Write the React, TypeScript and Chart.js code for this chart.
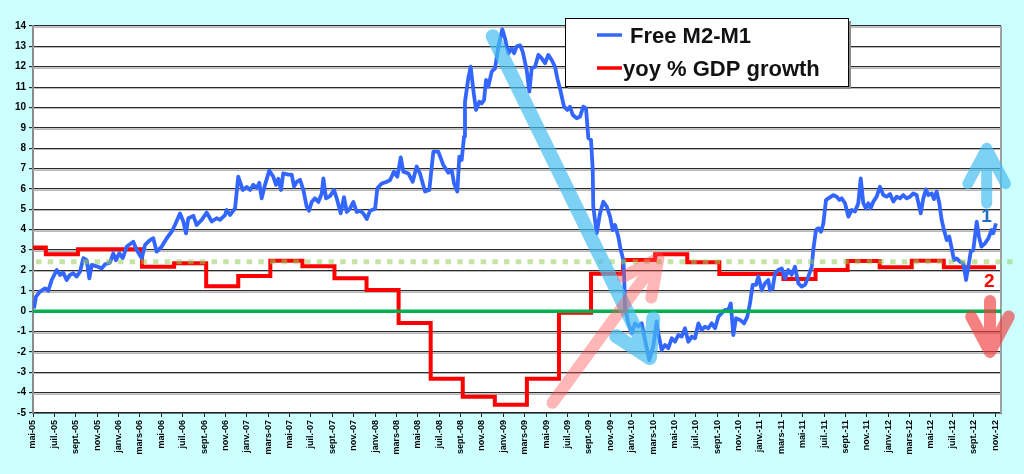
import React, { useEffect, useRef } from "react";
import { Chart, registerables } from "chart.js";

Chart.register(...registerables);

// ---------- data ----------
const tickLabels = [
  "mai-05", "juil.-05", "sept.-05", "nov.-05",
  "janv.-06", "mars-06", "mai-06", "juil.-06", "sept.-06", "nov.-06",
  "janv.-07", "mars-07", "mai-07", "juil.-07", "sept.-07", "nov.-07",
  "janv.-08", "mars-08", "mai-08", "juil.-08", "sept.-08", "nov.-08",
  "janv.-09", "mars-09", "mai-09", "juil.-09", "sept.-09", "nov.-09",
  "janv.-10", "mars-10", "mai-10", "juil.-10", "sept.-10", "nov.-10",
  "janv.-11", "mars-11", "mai-11", "juil.-11", "sept.-11", "nov.-11",
  "janv.-12", "mars-12", "mai-12", "juil.-12", "sept.-12", "nov.-12",
];

// months elapsed since mai-05 for each observation of Free M2-M1
const m2m1Months = [
  0.09, 0.28, 0.65, 1.12, 1.43, 1.75, 2.22, 2.53, 2.83, 3.15,
  3.46, 3.77, 4.09, 4.40, 4.71, 5.02, 5.27, 5.49, 5.96, 6.43,
  6.74, 7.20, 7.51, 7.76, 8.07, 8.39, 8.77, 9.38, 9.70, 10.17,
  10.48, 10.94, 11.25, 11.57, 12.04, 12.51, 12.97, 13.28, 13.75, 14.06,
  14.31, 14.53, 15.00, 15.31, 15.78, 16.25, 16.72, 17.18, 17.49, 17.96,
  18.12, 18.43, 18.90, 19.20, 19.62, 19.99, 20.30, 20.61, 20.93, 21.17,
  21.39, 21.70, 22.10, 22.48, 22.73, 22.95, 23.20, 23.41, 23.88, 24.20,
  24.42, 24.67, 24.98, 25.29, 25.60, 25.82, 26.07, 26.38, 26.69, 27.01,
  27.16, 27.41, 27.78, 28.16, 28.41, 28.78, 29.09, 29.35, 29.65, 29.96,
  30.28, 30.59, 30.90, 31.22, 31.53, 32.00, 32.21, 32.62, 33.09, 33.40,
  33.77, 34.08, 34.40, 34.64, 35.11, 35.52, 35.89, 36.20, 36.67, 37.07,
  37.45, 37.91, 38.38, 38.85, 39.17, 39.38, 39.69, 39.88, 40.10, 40.32,
  40.41, 40.72, 40.94, 41.19, 41.44, 41.75, 41.97, 42.19, 42.38, 42.59,
  42.91, 43.22, 43.53, 43.90, 44.15, 44.46, 44.78, 45.00, 45.25, 45.56,
  45.81, 46.18, 46.43, 46.65, 46.96, 47.27, 47.59, 47.90, 48.20, 48.52,
  48.83, 49.05, 49.36, 49.67, 49.98, 50.23, 50.49, 50.86, 51.17, 51.48,
  51.73, 51.95, 52.20, 52.36, 52.41, 52.73, 53.04, 53.35, 53.67, 53.98,
  54.23, 54.44, 54.75, 54.98, 55.22, 55.29, 55.38, 55.69, 56.01, 56.31,
  56.62, 56.94, 57.25, 57.65, 58.03, 58.34, 58.49, 58.81, 59.12, 59.43,
  59.75, 60.06, 60.37, 60.68, 60.99, 61.30, 61.62, 61.93, 62.24, 62.55,
  62.86, 63.17, 63.49, 63.80, 64.11, 64.42, 64.73, 65.04, 65.27, 65.51,
  65.76, 66.14, 66.51, 66.82, 67.07, 67.32, 67.63, 67.85, 68.17, 68.48,
  68.78, 68.94, 69.19, 69.41, 69.72, 70.04, 70.35, 70.65, 70.97, 71.28,
  71.59, 71.91, 72.22, 72.53, 72.84, 72.99, 73.24, 73.46, 73.71, 73.93,
  74.18, 74.40, 74.86, 75.18, 75.42, 75.65, 75.96, 76.27, 76.59, 76.89,
  77.20, 77.43, 77.67, 77.92, 78.14, 78.36, 78.61, 78.92, 79.23, 79.54,
  79.86, 80.17, 80.48, 80.79, 81.10, 81.41, 81.73, 82.04, 82.35, 82.66,
  83.04, 83.28, 83.54, 83.75, 84.07, 84.28, 84.53, 84.78, 85.00, 85.22,
  85.47, 85.71, 85.94, 86.15, 86.40, 86.71, 87.03, 87.28, 87.49, 87.72,
  87.96, 88.28, 88.49, 88.72, 89.05, 89.36, 89.68, 89.83, 90.08,
];

const m2m1Values = [
  0.14, 0.71, 0.96, 1.12, 1.0, 1.53, 2.02, 1.78, 1.89, 1.53,
  1.78, 1.86, 1.7, 1.94, 2.6, 2.5, 1.61, 2.27, 2.2, 2.1,
  2.3, 2.38, 2.84, 2.5, 2.84, 2.6, 3.17, 3.41, 3.0, 2.6,
  3.25, 3.49, 3.58, 2.92, 3.17, 3.58, 3.9, 4.23, 4.8, 4.4,
  3.82, 4.56, 4.68, 4.23, 4.48, 4.84, 4.4, 4.56, 4.48, 4.72,
  4.97, 4.72, 5.05, 6.6, 5.95, 6.1, 5.95, 6.2, 6.05, 6.3,
  5.54, 6.2, 6.9, 6.6, 6.2, 6.5, 5.95, 6.77, 6.7, 6.7,
  6.11, 6.35, 6.45, 5.95, 5.13, 4.93, 5.36, 5.54, 5.36, 5.78,
  6.52, 5.54, 5.65, 5.95, 5.54, 4.8, 5.6, 4.87, 5.03, 5.36,
  4.87, 4.93, 4.8, 4.52, 4.93, 5.03, 6.03, 6.27, 6.35, 6.44,
  6.85, 6.6, 7.55, 6.85, 6.76, 6.35, 7.1, 6.76, 5.87, 5.95,
  7.83, 7.83, 7.18, 6.8, 6.93, 6.28, 5.87, 7.59, 7.42, 8.57,
  10.28, 11.43, 12.0, 10.86, 9.88, 10.28, 10.2, 10.36, 11.35, 11.02,
  11.76, 11.92, 12.98, 13.84, 13.4, 12.66, 12.9, 12.66, 13.0, 13.05,
  12.74, 11.84, 10.78, 11.92, 12.0, 12.58, 12.41, 12.17, 12.58, 12.33,
  12.0, 11.43, 10.78, 10.04, 9.88, 10.04, 9.63, 9.47, 9.55, 10.04,
  9.96, 8.49, 8.41, 6.93, 5.13, 3.82, 4.8, 5.37, 5.13, 4.64,
  3.98, 4.23, 3.66, 3.0, 2.51, 1.86, 0.2, -0.6, -1.09, -0.6,
  -0.75, -0.6, -1.41, -2.4, -1.7, -0.5, -1.09, -1.9, -1.66, -1.82,
  -1.33, -1.5, -1.17, -1.25, -0.84, -1.5, -1.25, -1.33, -0.6, -0.92,
  -0.76, -0.84, -0.6, -0.84, -0.27, -0.1, 0.06, 0.06, 0.38, -1.17,
  -0.35, -0.43, -0.6, -0.27, 0.38, 1.29, 1.29, 1.7, 1.04, 1.37,
  1.53, 1.04, 1.12, 1.86, 2.02, 2.1, 1.61, 2.02, 1.78, 2.18,
  1.37, 1.21, 1.29, 1.7, 2.18, 3.0, 3.98, 4.07, 3.9, 4.3,
  5.46, 5.54, 5.7, 5.62, 5.46, 5.54, 5.3, 4.64, 4.97, 4.89,
  5.3, 6.52, 5.3, 5.05, 5.3, 5.05, 5.38, 5.62, 6.11, 5.7,
  5.62, 5.75, 5.38, 5.62, 5.54, 5.7, 5.54, 5.62, 5.78, 5.7,
  4.8, 5.54, 5.98, 5.7, 5.78, 5.5, 5.87, 5.3, 4.48, 3.98,
  3.49, 3.66, 3.08, 2.51, 2.59, 2.43, 2.35, 1.53, 2.18, 2.92,
  3.0, 4.39, 3.66, 3.17, 3.33, 3.57, 3.98, 3.82, 4.31,
];

// quarterly GDP growth: month where each level starts, and the level
const gdpMonths = [
  0, 1.2, 4.2, 7.2, 10.2, 13.2, 16.2, 19.2, 22.2, 25.2, 28.2,
  31.2, 34.2, 37.2, 40.2, 43.2, 46.2, 49.2, 52.2, 55.2, 58.2,
  61.2, 64.2, 67.2, 70.2, 73.2, 76.2, 79.2, 82.2, 85.2, 88.2,
];
const gdpValues = [
  3.07, 3.13, 2.8, 3.04, 3.04, 2.18, 2.35, 1.22, 1.73, 2.48, 2.2,
  1.61, 1.04, -0.58, -3.32, -4.2, -4.6, -3.32, -0.08, 1.84, 2.51,
  2.79, 2.4, 1.82, 1.82, 1.58, 2.02, 2.46, 2.15, 2.48, 2.15,
];
const gdpEndMonth = 90.08;

const xMax = 90.55;
const yMin = -5;
const yMax = 14;
const neutralLevel = 2.43;

// annotation arrows, in data coordinates (month, value)
const arrowTrend1 = { from: [43.0, 13.5], to: [57.7, -2.3] };
const arrowTrend2 = { from: [48.6, -4.5], to: [58.5, 2.6] };
const arrowUp = { from: [89.21, 5.3], to: [89.21, 8.0] };
const arrowDown = { from: [89.52, 0.5], to: [89.52, -2.0] };
const labelOne = { at: [89.2, 4.64], text: "1" };
const labelTwo = { at: [89.45, 1.42], text: "2" };

const legendItems = ["Free M2-M1", "yoy % GDP growth"];

// ---------- styling ----------
const FONT = "'Liberation Sans', Arial, Helvetica, sans-serif";
const BLUE = "#3366ff";
const RED = "#ff0000";

function drawArrow(
  ctx: CanvasRenderingContext2D,
  x1: number, y1: number, x2: number, y2: number,
  color: string, width: number, headLen: number, headDeg: number
) {
  const back = Math.atan2(y1 - y2, x1 - x2);
  const a = (headDeg * Math.PI) / 180;
  ctx.save();
  ctx.strokeStyle = color;
  ctx.lineWidth = width;
  ctx.lineCap = "round";
  ctx.lineJoin = "round";
  ctx.beginPath();
  ctx.moveTo(x1, y1);
  ctx.lineTo(x2, y2);
  ctx.moveTo(x2 + headLen * Math.cos(back + a), y2 + headLen * Math.sin(back + a));
  ctx.lineTo(x2, y2);
  ctx.lineTo(x2 + headLen * Math.cos(back - a), y2 + headLen * Math.sin(back - a));
  ctx.stroke();
  ctx.restore();
}

const decorPlugin = {
  id: "decor",
  beforeDraw(chart: any) {
    const { ctx, chartArea: a, width, height } = chart;
    ctx.save();
    ctx.fillStyle = "#ccffff";
    ctx.fillRect(0, 0, width, height);
    ctx.fillStyle = "#ffffff";
    ctx.fillRect(a.left, a.top, a.right - a.left, a.bottom - a.top);
    ctx.restore();
  },
  beforeDatasetsDraw(chart: any) {
    const { ctx, chartArea: a } = chart;
    const ys = chart.scales.y;
    ctx.save();
    ctx.strokeStyle = "#b8b8b8";
    ctx.lineWidth = 1;
    ys.ticks.forEach((t: any) => {
      const py = Math.round(ys.getPixelForValue(t.value)) + 1.5;
      if (py < a.bottom - 1) {
        ctx.beginPath();
        ctx.moveTo(a.left, py);
        ctx.lineTo(a.right, py);
        ctx.stroke();
      }
    });
    // right border of plot
    ctx.strokeStyle = "#a0a0a0";
    ctx.lineWidth = 2;
    ctx.beginPath();
    ctx.moveTo(a.right, a.top);
    ctx.lineTo(a.right, a.bottom);
    ctx.stroke();
    ctx.restore();
  },
  afterDatasetsDraw(chart: any) {
    const { ctx, chartArea: a } = chart;
    const xs = chart.scales.x;
    const ys = chart.scales.y;
    const px = (p: number[]) => [xs.getPixelForValue(p[0]), ys.getPixelForValue(p[1])];

    ctx.save();
    // zero line
    const y0 = ys.getPixelForValue(0);
    ctx.strokeStyle = "#00b050";
    ctx.lineWidth = 3.5;
    ctx.beginPath();
    ctx.moveTo(a.left, y0);
    ctx.lineTo(a.right, y0);
    ctx.stroke();

    // dotted neutral level
    const yn = ys.getPixelForValue(neutralLevel);
    ctx.strokeStyle = "rgba(150,205,90,0.55)";
    ctx.lineWidth = 5;
    ctx.setLineDash([5.5, 6.2]);
    ctx.beginPath();
    ctx.moveTo(a.left + 3, yn);
    ctx.lineTo(a.right + 14, yn);
    ctx.stroke();
    ctx.setLineDash([]);
    ctx.restore();

    // arrows
    let [x1, y1] = px(arrowTrend1.from);
    let [x2, y2] = px(arrowTrend1.to);
    drawArrow(ctx, x1, y1, x2, y2, "rgba(70,190,240,0.7)", 14, 40, 31);
    [x1, y1] = px(arrowTrend2.from);
    [x2, y2] = px(arrowTrend2.to);
    drawArrow(ctx, x1, y1, x2, y2, "rgba(255,80,80,0.42)", 12, 40, 26);
    [x1, y1] = px(arrowUp.from);
    [x2, y2] = px(arrowUp.to);
    drawArrow(ctx, x1, y1, x2, y2, "rgba(70,190,240,0.7)", 11, 40, 28);
    [x1, y1] = px(arrowDown.from);
    [x2, y2] = px(arrowDown.to);
    drawArrow(ctx, x1, y1, x2, y2, "rgba(240,60,60,0.65)", 12, 40, 28);

    // labels 1 / 2
    ctx.save();
    ctx.font = `bold 19px ${FONT}`;
    ctx.textAlign = "center";
    ctx.textBaseline = "middle";
    let [lx, ly] = px(labelOne.at);
    ctx.fillStyle = "#1f70c0";
    ctx.fillText(labelOne.text, lx, ly);
    [lx, ly] = px(labelTwo.at);
    ctx.fillStyle = "#ff0000";
    ctx.fillText(labelTwo.text, lx, ly);
    ctx.restore();
  },
  afterDraw(chart: any) {
    const { ctx, chartArea: a } = chart;
    const bx = a.left + 532;
    const by = a.top - 8;
    const bw = 283;
    const bh = 68;
    ctx.save();
    ctx.fillStyle = "#8c8c8c";
    ctx.fillRect(bx + 3, by + 3, bw, bh);
    ctx.fillStyle = "#ffffff";
    ctx.fillRect(bx, by, bw, bh);
    ctx.strokeStyle = "#000";
    ctx.lineWidth = 1;
    ctx.strokeRect(bx + 0.5, by + 0.5, bw, bh);

    ctx.lineWidth = 3.5;
    ctx.lineCap = "butt";
    ctx.strokeStyle = BLUE;
    ctx.beginPath();
    ctx.moveTo(bx + 32, by + 17);
    ctx.lineTo(bx + 57, by + 17);
    ctx.stroke();
    ctx.strokeStyle = RED;
    ctx.beginPath();
    ctx.moveTo(bx + 32, by + 50);
    ctx.lineTo(bx + 57, by + 50);
    ctx.stroke();

    ctx.fillStyle = "#111";
    ctx.font = `bold 22px ${FONT}`;
    ctx.textAlign = "left";
    ctx.textBaseline = "alphabetic";
    ctx.fillText(legendItems[0], bx + 65, by + 25);
    ctx.fillText(legendItems[1], bx + 58, by + 58);
    ctx.restore();
  },
};

export default function App() {
  const canvasRef = useRef<HTMLCanvasElement | null>(null);

  useEffect(() => {
    document.body.style.margin = "0";
    document.body.style.overflow = "hidden";
    const canvas = canvasRef.current;
    if (!canvas) return;

    const blueData = m2m1Months.map((m, i) => ({ x: m, y: m2m1Values[i] }));
    const redData = gdpMonths.map((m, i) => ({ x: m, y: gdpValues[i] }));
    redData.push({ x: gdpEndMonth, y: gdpValues[gdpValues.length - 1] });

    const tickFont = { family: FONT, size: 10, weight: "bold" as const };

    const chart = new Chart(canvas, {
      type: "line",
      data: {
        datasets: [
          {
            label: legendItems[1],
            data: redData,
            borderColor: RED,
            borderWidth: 4,
            pointRadius: 0,
            stepped: "after",
            fill: false,
            order: 2,
          },
          {
            label: legendItems[0],
            data: blueData,
            borderColor: BLUE,
            borderWidth: 3.8,
            pointRadius: 0,
            tension: 0,
            borderJoinStyle: "round",
            fill: false,
            order: 1,
          },
        ],
      },
      options: {
        animation: false,
        responsive: true,
        maintainAspectRatio: false,
        parsing: true as any,
        layout: { padding: { top: 26, right: 23, left: 0, bottom: 0 } },
        plugins: {
          legend: { display: false },
          tooltip: { enabled: false },
        },
        scales: {
          x: {
            type: "linear",
            min: 0,
            max: xMax,
            afterBuildTicks: (scale: any) => {
              scale.ticks = tickLabels.map((_, i) => ({ value: i * 2 }));
            },
            afterFit: (scale: any) => {
              scale.height = 61;
            },
            ticks: {
              autoSkip: false,
              maxRotation: 90,
              minRotation: 90,
              padding: 3,
              color: "#000",
              font: { family: FONT, size: 9, weight: "bold" },
              callback: (v: any) => tickLabels[Math.round(Number(v) / 2)] ?? "",
            },
            grid: {
              drawOnChartArea: false,
              drawTicks: true,
              tickLength: 4,
              color: "#222",
              lineWidth: 1,
            },
            border: { color: "#222", width: 1.5 },
          },
          y: {
            type: "linear",
            min: yMin,
            max: yMax,
            afterFit: (scale: any) => {
              scale.width = 33;
            },
            ticks: {
              stepSize: 1,
              padding: 3,
              color: "#000",
              font: tickFont,
            },
            grid: {
              color: "#2b2b2b",
              lineWidth: 1.2,
              tickLength: 4,
            },
            border: { color: "#8a8a8a", width: 2 },
          },
        },
      },
      plugins: [decorPlugin],
    });

    return () => chart.destroy();
  }, []);

  return (
    <div style={{ width: 1024, height: 474, position: "relative" }}>
      <canvas ref={canvasRef} />
    </div>
  );
}
